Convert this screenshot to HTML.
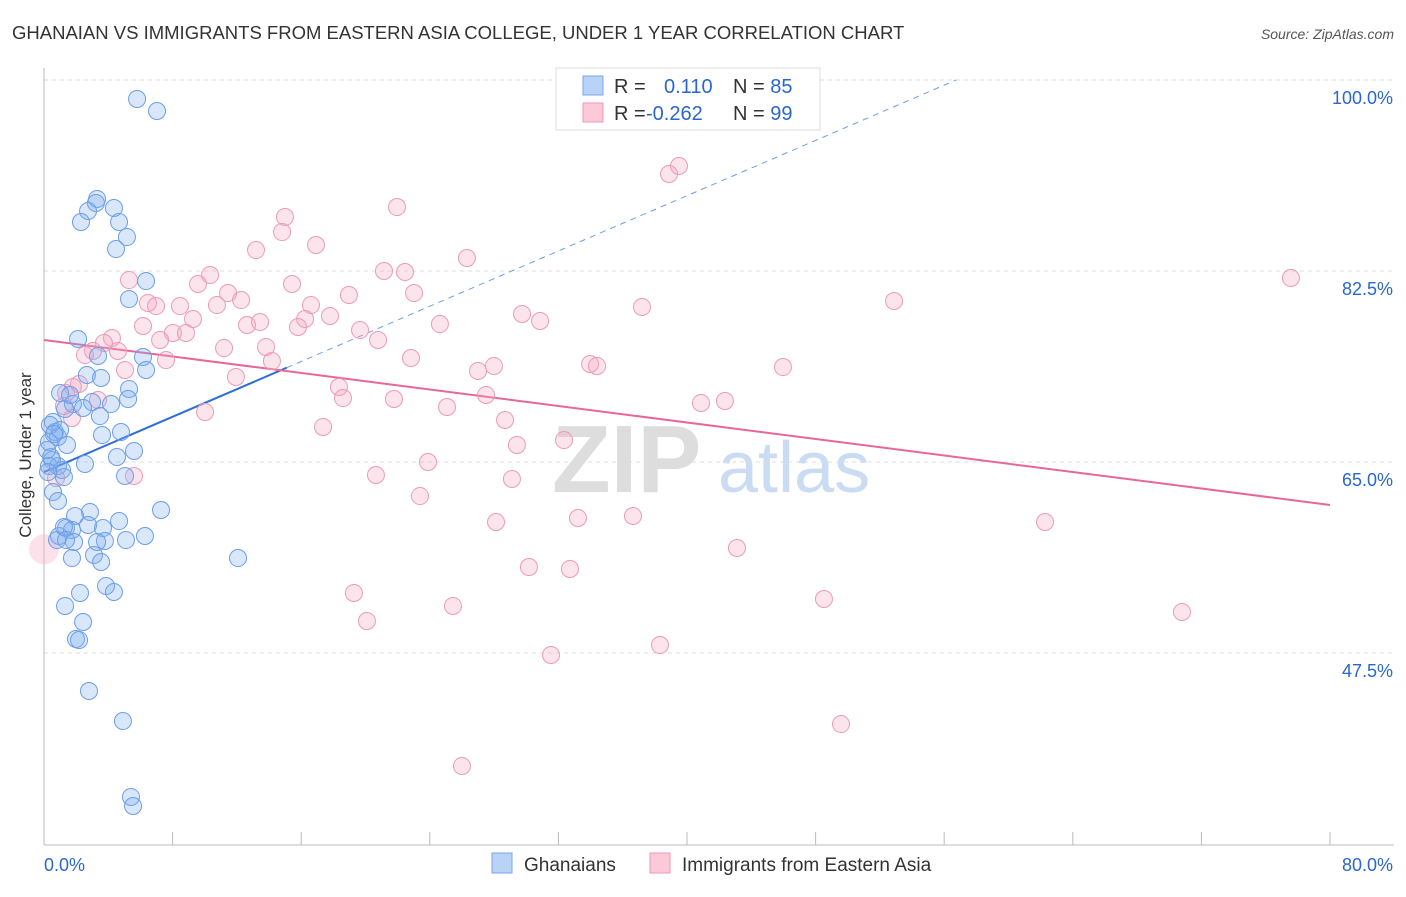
<!DOCTYPE html>
<html><head><meta charset="utf-8"><style>
body{margin:0;background:#fff;font-family:"Liberation Sans",sans-serif}
svg text{font-family:"Liberation Sans",sans-serif}
</style></head><body>
<svg id="c" width="1406" height="892">
<text x="12" y="39" font-size="18.5" fill="#333">GHANAIAN VS IMMIGRANTS FROM EASTERN ASIA COLLEGE, UNDER 1 YEAR CORRELATION CHART</text>
<text x="1394" y="39" font-size="14" fill="#555" font-style="italic" text-anchor="end">Source: ZipAtlas.com</text>
<g><text x="552" y="492" font-size="96" fill="#ddd" font-family="Liberation Serif" font-weight="bold">ZIP</text><text x="718" y="492" font-size="72" fill="#c9dcf3">atlas</text></g>
<g id="grid"></g><g id="axes"></g><g id="trend"></g><g id="pts"></g>
<text x="31" y="455" font-size="17" fill="#333" text-anchor="middle" transform="rotate(-90 31 455)">College, Under 1 year</text>
<g>
<rect x="556" y="68" width="264" height="62" fill="#fff" stroke="#ddd"/>
<rect x="583" y="76" width="20" height="19" fill="#b9d3f7" stroke="#7aa6e8"/>
<rect x="583" y="103" width="20" height="19" fill="#fbc9d8" stroke="#ec9ab4"/>
<text x="614" y="93" font-size="20" fill="#333">R = <tspan fill="#2a66d0" x="664">0.110</tspan><tspan fill="#333" x="733">N = </tspan><tspan fill="#2a66d0">85</tspan></text>
<text x="614" y="120" font-size="20" fill="#333">R = <tspan fill="#2a66d0" x="646">-0.262</tspan><tspan fill="#333" x="733">N = </tspan><tspan fill="#2a66d0">99</tspan></text>
</g>
<g>
<rect x="492" y="853" width="20" height="20" fill="#b9d3f7" stroke="#7aa6e8"/>
<text x="524" y="871" font-size="19" fill="#333">Ghanaians</text>
<rect x="650" y="853" width="20" height="20" fill="#fbc9d8" stroke="#ec9ab4"/>
<text x="682" y="871" font-size="19" fill="#333">Immigrants from Eastern Asia</text>
</g>
</svg>
<script>
const yTicks=[100,82.5,65,47.5];
const yTickLabels=["100.0%","82.5%","65.0%","47.5%"];
const xEndLabels=["0.0%","80.0%"];
const blueX=[5.79,7.03,3.30,3.23,2.74,4.35,2.30,4.67,5.16,4.48,6.35,5.29,2.12,3.36,6.16,6.35,2.67,3.55,5.29,1.00,1.80,2.99,4.17,2.43,5.23,1.31,3.48,0.56,0.68,0.87,0.31,4.79,3.61,1.43,5.60,4.54,0.44,0.87,1.12,2.55,5.04,1.24,0.56,0.87,2.86,1.93,7.28,4.67,1.37,1.74,2.74,3.67,0.93,1.87,3.79,5.10,6.28,3.11,3.55,1.74,12.07,3.86,4.35,2.24,1.31,2.43,1.99,2.18,2.80,4.91,5.41,5.54,0.31,0.50,0.19,0.37,1.00,1.62,0.81,1.24,1.37,3.30,0.25,0.62];
const blueY=[98.26,97.16,89.10,88.73,88.00,88.27,86.99,86.99,85.61,84.51,81.58,79.93,76.27,74.71,74.62,73.43,72.97,72.70,71.69,71.32,70.31,70.50,70.31,69.95,70.77,69.86,69.21,68.66,67.75,67.29,66.83,67.75,67.47,66.56,66.01,65.46,65.46,64.63,64.27,64.82,63.72,63.62,62.25,61.43,60.42,60.05,60.60,59.59,58.95,58.77,59.23,58.95,58.22,57.67,57.76,57.85,58.22,56.48,55.84,56.20,56.20,53.64,53.09,53.00,51.81,50.34,48.78,48.69,44.02,41.27,34.31,33.48,64.63,65.18,66.10,68.39,67.93,71.14,57.85,59.04,57.85,57.67,64.08,67.56];
const pinkX=[39.50,38.88,21.96,14.99,14.81,16.92,13.19,26.31,10.33,5.29,21.15,22.46,15.43,9.58,11.45,6.47,6.97,8.46,12.26,10.76,18.97,23.02,37.20,52.88,77.57,16.61,29.74,30.86,9.27,16.24,17.79,6.16,8.02,12.63,13.44,15.80,19.66,24.63,7.22,8.83,4.23,3.73,3.05,4.60,5.04,2.55,11.20,13.81,20.78,14.18,7.59,22.83,27.99,27.00,33.97,34.40,45.97,11.94,2.18,1.80,1.37,18.35,18.60,27.50,21.77,40.87,42.36,1.24,3.36,10.02,25.07,28.68,1.74,17.36,29.42,32.35,23.89,20.65,29.11,23.39,5.60,0.75,28.12,33.22,36.64,62.27,43.11,30.17,32.72,19.28,25.44,20.09,48.52,70.79,31.54,38.32,49.58,26.00,38.20];
const pinkY=[92.12,91.39,88.36,87.45,86.07,84.88,84.42,83.69,82.13,81.67,82.50,82.41,81.31,81.31,80.48,79.57,79.29,79.29,79.84,79.38,80.30,80.48,79.20,79.75,81.86,79.38,78.56,77.92,78.10,78.10,78.38,77.46,76.82,77.55,77.83,77.37,77.09,77.64,76.18,76.82,76.36,75.90,75.17,75.17,73.43,74.80,75.44,75.54,76.18,74.25,74.34,74.53,73.80,73.34,73.98,73.80,73.70,72.79,72.15,71.87,71.32,71.87,70.86,71.14,70.77,70.41,70.59,70.13,70.68,69.58,70.04,68.85,69.03,68.21,66.56,67.01,65.00,63.81,63.44,61.88,63.72,63.53,59.50,59.87,60.05,59.50,57.12,55.38,55.20,53.00,51.81,50.43,52.45,51.26,47.32,48.23,40.99,37.15,96.61];
const blueTrend=[64.08,0.633]; // intercept, slope
const pinkTrend=[76.18,-0.189];
const NS="http://www.w3.org/2000/svg";
const X=v=>44+v*16.075, Y=v=>80+(100-v)*191/17.5;
function mk(tag,attrs,parent){const e=document.createElementNS(NS,tag);for(const k in attrs)e.setAttribute(k,attrs[k]);document.getElementById(parent).appendChild(e);return e;}
yTicks.forEach((t,i)=>{
 const l=mk('line',{x1:44,x2:1394,y1:Y(t),y2:Y(t),stroke:'#ddd','stroke-dasharray':'4,4'},'grid');
 
 
 const tx=mk('text',{x:1393,y:Y(t)+24,'font-size':18,fill:'#2a66d0','text-anchor':'end'},'grid');tx.textContent=yTickLabels[i];
 
 
});
mk('line',{x1:44,x2:44,y1:68,y2:845,stroke:'#bbb'},'axes');
const xa=mk('line',{x1:44,x2:1394,y1:845,y2:845,stroke:'#bbb'},'axes');


for(let v=8;v<=80;v+=8){mk('line',{x1:X(v),x2:X(v),y1:832,y2:845,stroke:'#bbb'},'axes');}
const t0=mk('text',{x:44,y:871,'font-size':18,fill:'#2a66d0'},'axes');t0.textContent=xEndLabels[0];


const t1=mk('text',{x:1393,y:871,'font-size':18,fill:'#2a66d0','text-anchor':'end'},'axes');t1.textContent=xEndLabels[1];


const bEnd=15.1, bFar=(100-blueTrend[0])/blueTrend[1];
const bt=mk('line',{x1:X(0),y1:Y(blueTrend[0]),x2:X(bEnd),y2:Y(blueTrend[0]+blueTrend[1]*bEnd),stroke:'#2d6fd6','stroke-width':2},'trend');


const bd=mk('line',{x1:X(bEnd),y1:Y(blueTrend[0]+blueTrend[1]*bEnd),x2:X(bFar),y2:Y(100),stroke:'#6d9ee8','stroke-width':1,'stroke-dasharray':'6,5'},'trend');


const pt=mk('line',{x1:X(0),y1:Y(pinkTrend[0]),x2:X(80),y2:Y(pinkTrend[0]+pinkTrend[1]*80),stroke:'#e8679a','stroke-width':2},'trend');


const big=mk('circle',{cx:X(0),cy:Y(57.0),r:15,fill:'rgba(245,165,195,0.35)',stroke:'none'},'pts');


pinkX.forEach((x,i)=>{const c=mk('circle',{cx:X(x),cy:Y(pinkY[i]),r:8.5,fill:'rgba(245,165,195,0.3)',stroke:'#eb9bb5','stroke-width':1},'pts');
 
 });
blueX.forEach((x,i)=>{const c=mk('circle',{cx:X(x),cy:Y(blueY[i]),r:8.5,fill:'rgba(130,175,240,0.3)',stroke:'#6d9ee8','stroke-width':1},'pts');
 
 });
</script>
</body></html>
